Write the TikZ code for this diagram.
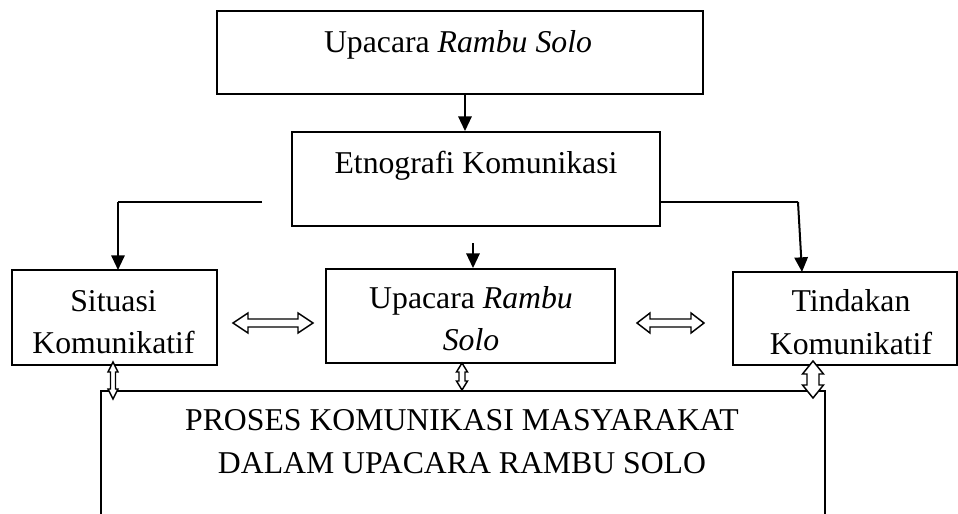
\documentclass[tikz,border=0pt]{standalone}
\usepackage{fontspec}
\setmainfont{Liberation Serif}
\usetikzlibrary{arrows.meta}

% hollow horizontal double arrow: x1, x2, y, shaft half, head half, head length
\newcommand{\hdbl}[6]{%
  \draw[hollow] (#1,#3) -- (#1+#6,#3-#5) -- (#1+#6,#3-#4) -- (#2-#6,#3-#4)
    -- (#2-#6,#3-#5) -- (#2,#3) -- (#2-#6,#3+#5) -- (#2-#6,#3+#4)
    -- (#1+#6,#3+#4) -- (#1+#6,#3+#5) -- cycle;}
% hollow vertical double arrow: x, y1, y2, shaft half, head half, head length
\newcommand{\vdbl}[6]{%
  \draw[hollow] (#1,#2) -- (#1+#5,#2+#6) -- (#1+#4,#2+#6) -- (#1+#4,#3-#6)
    -- (#1+#5,#3-#6) -- (#1,#3) -- (#1-#5,#3-#6) -- (#1-#4,#3-#6)
    -- (#1-#4,#2+#6) -- (#1-#5,#2+#6) -- cycle;}

\tikzset{
  box/.style={draw, line width=1.4pt, inner sep=0pt},
  txt/.style={anchor=base, inner sep=0pt, font=\fontsize{23.8}{31.5}\selectfont},
  conn/.style={line width=1.5pt, -{Triangle[length=11pt,width=10pt]}},
  hollow/.style={draw, fill=white, line width=1.1pt, line join=miter},
}

\begin{document}
\begin{tikzpicture}[x=0.75pt, y=-0.75pt]
\clip (0,0) rectangle (958,514);
\fill[white] (0,0) rectangle (958,514);

% boxes
\node[box, minimum width=486*0.75pt, minimum height=83*0.75pt] (top) at (460,52.5) {};
\node[box, minimum width=368*0.75pt, minimum height=94*0.75pt] (etno) at (476,179) {};
\node[box, minimum width=205*0.75pt, minimum height=95*0.75pt] (sit) at (114.5,317.5) {};
\node[box, minimum width=289*0.75pt, minimum height=94*0.75pt] (mid) at (470.5,316) {};
\node[box, minimum width=224*0.75pt, minimum height=93*0.75pt] (tind) at (845,318.5) {};
\node[box, minimum width=724*0.75pt, minimum height=125*0.75pt] (proc) at (463,453.5) {};

% labels
\node[txt] (topL) at (458,52) {Upacara \textit{Rambu Solo}};
\node[txt] (etnoL) at (476,173) {Etnografi Komunikasi};
\node[txt] (sitA) at (113.5,311) {Situasi};
\node[txt] (sitB) at (113.5,353) {Komunikatif};
\node[txt] (midA) at (471,308) {Upacara \textit{Rambu}};
\node[txt] (midB) at (471,350) {\textit{Solo}};
\node[txt] (tindA) at (851,311) {Tindakan};
\node[txt] (tindB) at (851,354) {Komunikatif};
\node[txt] (procA) at (462,430) {PROSES KOMUNIKASI MASYARAKAT};
\node[txt] (procB) at (462,473) {DALAM UPACARA RAMBU SOLO};

% solid connectors
\coordinate (tdown) at (465,94);
\draw[conn] (tdown) -- (tdown |- etno.north);

\coordinate (lstart) at (262,202);
\coordinate (sitin) at (118,270);
\draw[conn, -] (lstart) -- (lstart -| sitin);
\draw[conn] (lstart -| sitin) -- (sitin);

\coordinate (rknee) at (798,202);
\coordinate (tindin) at (802,272);
\draw[conn, -] (etno.east |- rknee) -- (rknee);
\draw[conn] (rknee) -- (tindin);

\coordinate (mstart) at (473,243);
\draw[conn] (mstart) -- (mstart |- mid.north);

% hollow double arrows
\hdbl{233}{313}{323}{4}{10}{15}
\hdbl{637}{704}{323}{4}{10}{13}
\vdbl{113}{362}{399}{2.5}{5}{10}
\vdbl{462}{363}{390}{3}{5.5}{9}
\vdbl{813}{361}{398}{6}{10.5}{13}
\end{tikzpicture}
\end{document}
